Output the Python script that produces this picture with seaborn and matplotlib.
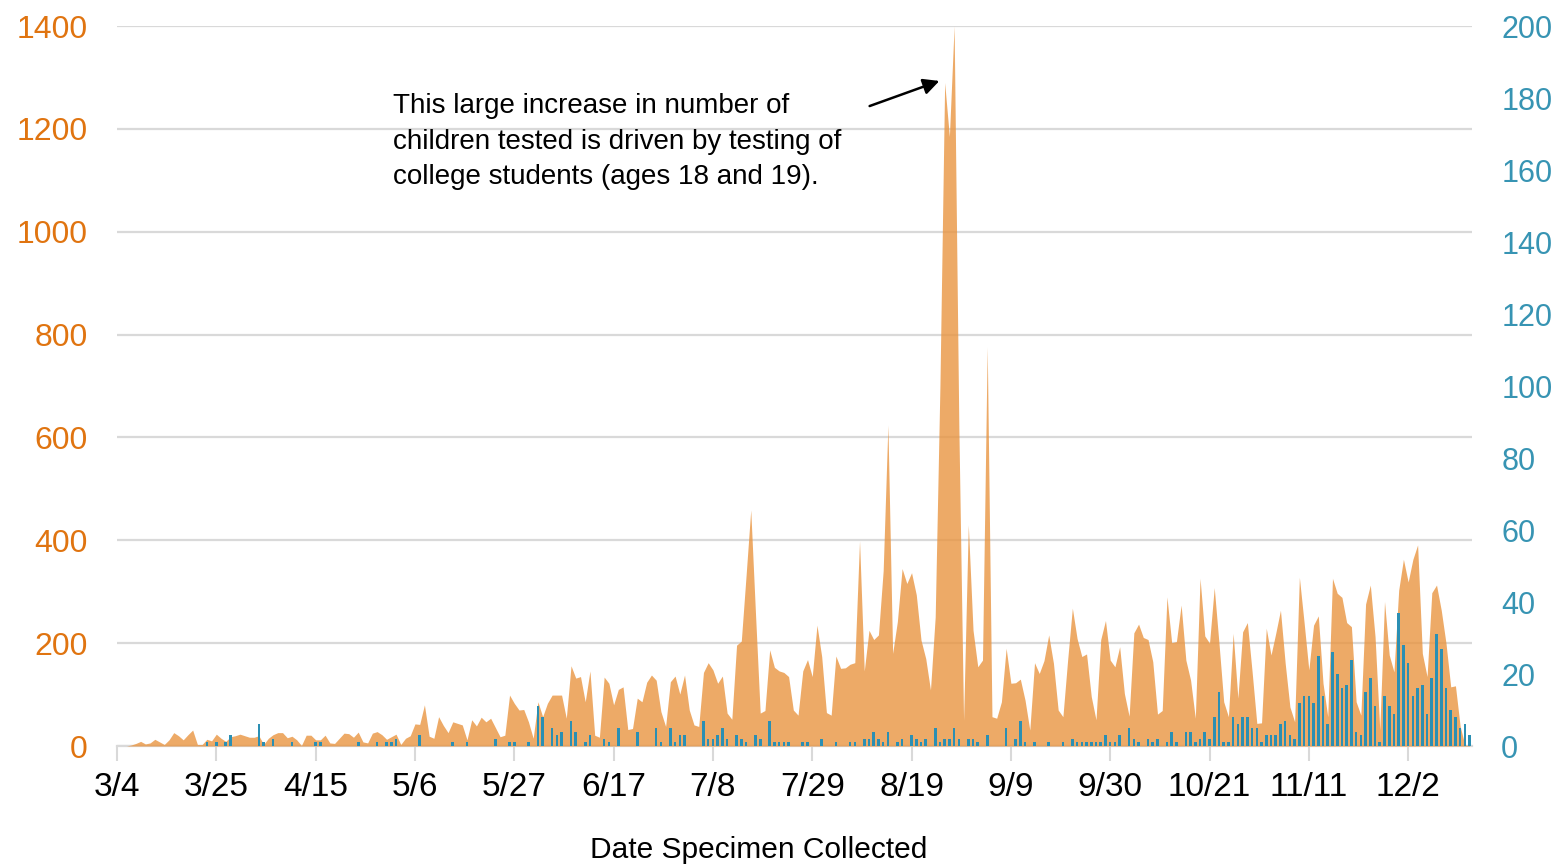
import matplotlib
matplotlib.use('Agg')
import matplotlib.pyplot as plt
import numpy as np
import pandas as pd
import seaborn as sns

# daily counts, 3/4 .. 12/15 (one value per day, 7 per row)
tested = [
    0, 0, 0, 2, 5, 9, 4,
    6, 13, 8, 3, 12, 26, 20,
    12, 22, 31, 3, 3, 13, 10,
    23, 15, 9, 18, 20, 23, 20,
    17, 17, 20, 3, 15, 22, 26,
    26, 16, 19, 12, 1, 21, 21,
    12, 12, 21, 6, 5, 15, 25,
    24, 17, 27, 8, 6, 25, 28,
    22, 13, 18, 23, 3, 15, 20,
    43, 42, 80, 19, 15, 57, 40,
    26, 47, 44, 41, 12, 51, 39,
    56, 47, 54, 36, 18, 21, 99,
    83, 70, 71, 47, 15, 86, 57,
    83, 99, 99, 99, 54, 156, 132,
    135, 86, 146, 21, 17, 134, 122,
    80, 110, 115, 32, 34, 93, 86,
    124, 138, 128, 67, 38, 125, 136,
    101, 138, 70, 41, 38, 143, 162,
    148, 122, 136, 64, 52, 196, 204,
    330, 459, 258, 64, 69, 187, 153,
    146, 143, 135, 70, 60, 146, 168,
    135, 235, 174, 65, 60, 175, 151,
    152, 159, 162, 399, 146, 225, 207,
    216, 341, 624, 180, 242, 345, 316,
    337, 294, 206, 170, 109, 251, 700,
    1290, 1185, 1400, 620, 50, 430, 225,
    154, 167, 776, 57, 54, 86, 190,
    122, 123, 130, 89, 31, 162, 141,
    166, 216, 161, 70, 57, 167, 268,
    209, 174, 179, 96, 51, 207, 244,
    167, 154, 193, 102, 58, 220, 237,
    211, 207, 164, 62, 69, 290, 201,
    203, 274, 167, 128, 54, 326, 214,
    200, 308, 200, 86, 57, 219, 93,
    222, 240, 145, 44, 45, 229, 177,
    219, 264, 161, 76, 47, 328, 240,
    148, 235, 253, 122, 57, 326, 297,
    289, 240, 232, 86, 60, 276, 313,
    213, 31, 281, 177, 144, 303, 363,
    319, 363, 391, 180, 135, 298, 313,
    264, 200, 115, 117, 38, 2, 1,
]

positive = [
    0, 0, 0, 0, 0, 0, 0,
    0, 0, 0, 0, 0, 0, 0,
    0, 0, 0, 0, 0, 1, 0,
    1, 0, 1, 3, 0, 0, 0,
    0, 0, 6, 1, 0, 2, 0,
    0, 0, 1, 0, 0, 0, 0,
    1, 1, 0, 0, 0, 0, 0,
    0, 0, 1, 0, 0, 0, 1,
    0, 1, 1, 2, 0, 0, 0,
    0, 3, 0, 0, 0, 0, 0,
    0, 1, 0, 0, 1, 0, 0,
    0, 0, 0, 2, 0, 0, 1,
    1, 0, 0, 1, 0, 11, 8,
    0, 5, 3, 4, 0, 7, 4,
    0, 1, 3, 0, 0, 2, 1,
    0, 5, 0, 0, 0, 4, 0,
    0, 0, 5, 1, 0, 5, 1,
    3, 3, 0, 0, 0, 7, 2,
    2, 3, 5, 2, 0, 3, 2,
    1, 0, 3, 2, 0, 7, 1,
    1, 1, 1, 0, 0, 1, 1,
    0, 0, 2, 0, 0, 1, 0,
    0, 1, 1, 0, 2, 2, 4,
    2, 1, 4, 0, 1, 2, 0,
    3, 2, 1, 2, 0, 5, 1,
    2, 2, 5, 2, 0, 2, 2,
    1, 0, 3, 0, 0, 0, 5,
    0, 2, 7, 1, 0, 1, 0,
    0, 1, 0, 0, 1, 0, 2,
    1, 1, 1, 1, 1, 1, 3,
    1, 1, 3, 0, 5, 2, 1,
    0, 2, 1, 2, 0, 1, 4,
    1, 0, 4, 4, 1, 2, 4,
    2, 8, 15, 1, 1, 8, 6,
    8, 8, 5, 5, 1, 3, 3,
    3, 6, 7, 3, 2, 12, 14,
    14, 12, 25, 14, 6, 26, 20,
    16, 17, 24, 4, 3, 15, 19,
    11, 1, 14, 11, 9, 37, 28,
    23, 14, 16, 17, 9, 19, 31,
    27, 16, 10, 8, 5, 6, 3,
]

tick_days = [0, 21, 42, 63, 84, 105, 126, 147, 168, 189, 210, 231, 252, 273]
tick_labels = ['3/4', '3/25', '4/15', '5/6', '5/27', '6/17', '7/8', '7/29',
               '8/19', '9/9', '9/30', '10/21', '11/11', '12/2']
left_ticks = list(range(0, 1401, 200))
right_ticks = list(range(0, 201, 20))

NOTE = ('This large increase in number of\n'
        'children tested is driven by testing of\n'
        'college students (ages 18 and 19).')

ORANGE = '#E99541'
ORANGE_TXT = '#E07410'
BLUE = '#2B8FB3'
BLUE_TXT = '#3794B3'
GRID = '#D9D9D9'

df = pd.DataFrame({'day': np.arange(len(tested)), 'tested': tested, 'positive': positive})

sns.set_theme(style='white')
plt.rcParams['font.family'] = ['Liberation Sans', 'DejaVu Sans']
plt.rcParams['text.color'] = 'black'

W, H = 1554, 864
fig = plt.figure(figsize=(W / 100, H / 100), dpi=100)
ax = fig.add_axes([117 / W, 1 - 746 / H, (1472 - 117) / W, 720 / H])

ax.fill_between(df['day'], df['tested'], color=ORANGE, alpha=0.8, lw=0, zorder=3)
ax.set_ylim(0, 1400)
ax.set_yticks(left_ticks)
ax.yaxis.grid(True, color=GRID, lw=1.6)
ax.set_axisbelow(True)
ax.tick_params(axis='y', length=0, pad=21, labelsize=23, labelcolor=ORANGE_TXT)

ax2 = ax.twinx()
sns.barplot(data=df, x='day', y='positive', native_scale=True, color=BLUE,
            saturation=1, width=0.55, linewidth=0, errorbar=None, ax=ax2)
ax2.set_ylim(0, 200)
ax2.set_yticks(right_ticks)
ax2.set_ylabel('')
ax2.set_xlabel('')
ax2.tick_params(axis='y', length=0, pad=21, labelsize=22, labelcolor=BLUE_TXT)

ax.set_xlim(0, 286.5)
ax.set_xticks(tick_days)
ax.set_xticklabels(tick_labels)
ax.tick_params(axis='x', length=11, width=1.5, color=GRID, pad=8, labelsize=24,
               labelcolor='black', direction='out', bottom=True)
ax.set_xlabel('')

for a in (ax, ax2):
    for side in ('top', 'left', 'right'):
        a.spines[side].set_visible(False)
    a.spines['bottom'].set_color(GRID)
    a.spines['bottom'].set_linewidth(1.6)
ax2.spines['bottom'].set_visible(False)

fig.text(759 / W, 1 - 850 / H, 'Date Specimen Collected', ha='center', va='center',
         fontsize=21.5, color='black')
fig.text(393 / W, 1 - 93 / H, NOTE, ha='left', va='top', fontsize=20,
         linespacing=1.48, color='black')
ax.annotate('', xy=(942 / W, 1 - 80 / H), xytext=(867 / W, 1 - 107 / H),
            xycoords='figure fraction', textcoords='figure fraction',
            arrowprops=dict(arrowstyle='-|>', color='black', lw=1.8, mutation_scale=24))

fig.savefig('out.png', dpi=100)
